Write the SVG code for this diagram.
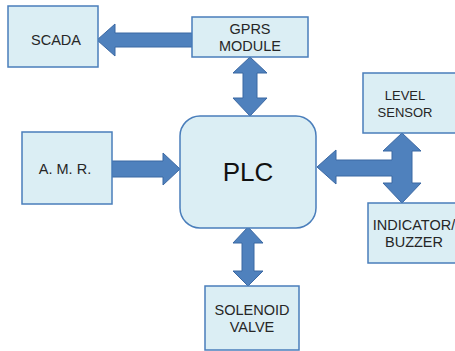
<svg xmlns="http://www.w3.org/2000/svg" width="455" height="351" viewBox="0 0 455 351">
<style>
.box{fill:#dbeef4;stroke:#4a7ebb;stroke-width:1.5}
.lbl{font-family:"Liberation Sans",Arial,sans-serif;font-size:14.5px;fill:#262626;text-anchor:middle}
.arr{fill:#4f81bd;stroke:#3b68a3;stroke-width:1}
</style>
<rect width="455" height="351" fill="#ffffff"/>
<g id="connectors">
<polygon class="arr" points="192,33 115,33 115,24 97,40 115,56 115,47 192,47"/>
<polygon class="arr" points="250,57 267,73 257,73 257,98 267,98 250,116 233,98 243,98 243,73 233,73"/>
<polygon class="arr" points="112,161 163,161 163,153 180,169 163,185 163,177 112,177"/>
<polygon class="arr" points="402,133 421,151 412,151 412,183 421,183 402,203 383,183 392,183 392,176 336,176 336,184 317,167 336,150 336,160 392,160 392,151 383,151"/>
<polygon class="arr" points="248,227 263,243 254,243 254,271 263,271 248,286 233,271 242,271 242,243 233,243"/>
</g>
<g id="scada">
<rect class="box" x="8" y="6" width="90" height="61"/>
<text class="lbl" x="56" y="45">SCADA</text>
</g>
<g id="gprs">
<rect class="box" x="192" y="17" width="116" height="40"/>
<text class="lbl" x="250" y="34">GPRS</text>
<text class="lbl" x="250" y="51">MODULE</text>
</g>
<g id="amr">
<rect class="box" x="22" y="132" width="90" height="72"/>
<text class="lbl" x="65" y="174">A. M. R.</text>
</g>
<g id="plc">
<rect class="box" x="180" y="116" width="136" height="112" rx="20" ry="20"/>
<text class="lbl" x="248" y="181" style="font-size:26px;fill:#111">PLC</text>
</g>
<g id="level">
<rect class="box" x="363" y="73" width="100" height="60"/>
<text class="lbl" x="405" y="100" style="font-size:13px">LEVEL</text>
<text class="lbl" x="405" y="117" style="font-size:13px">SENSOR</text>
</g>
<g id="indicator">
<rect class="box" x="368" y="203" width="100" height="60"/>
<text class="lbl" x="414" y="230">INDICATOR/</text>
<text class="lbl" x="414" y="247">BUZZER</text>
</g>
<g id="solenoid">
<rect class="box" x="205" y="286" width="94" height="64"/>
<text class="lbl" x="252" y="315">SOLENOID</text>
<text class="lbl" x="252" y="332">VALVE</text>
</g>
</svg>
